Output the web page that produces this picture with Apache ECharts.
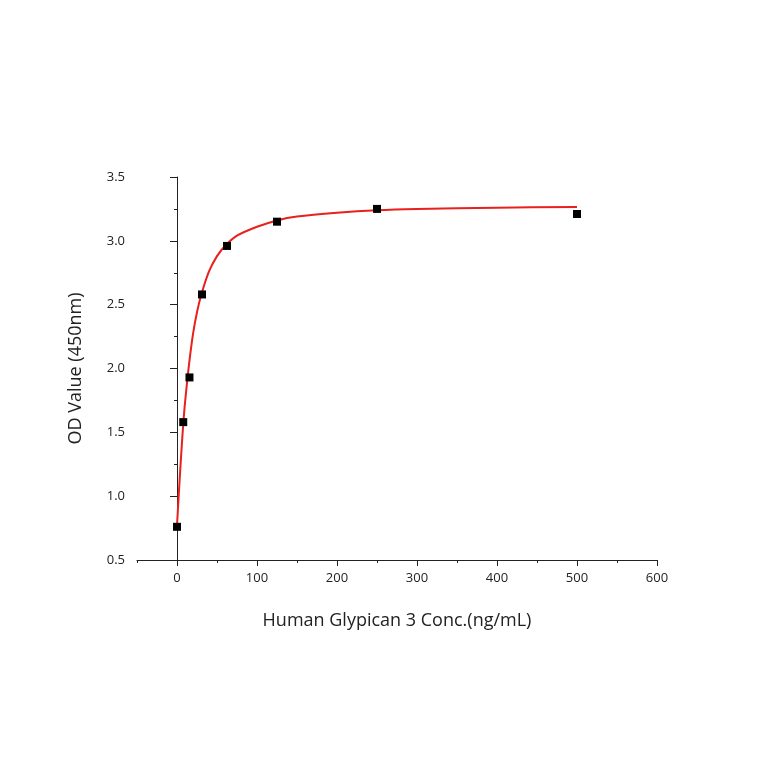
<!DOCTYPE html>
<html><head><meta charset="utf-8">
<script src="https://cdn.jsdelivr.net/npm/echarts@6/dist/echarts.min.js"></script>
<style>html,body{margin:0;padding:0;background:#fff}#c{width:764px;height:764px}</style>
</head><body><div id="c"></div>
<script>
const conc = [0, 7.8, 15.6, 31.25, 62.5, 125, 250, 500];
const od = [0.76, 1.58, 1.93, 2.58, 2.96, 3.15, 3.25, 3.21];
const fitX = [0, 2, 4, 6, 8, 10, 15, 20, 25, 30, 40, 50, 60, 75, 100, 125, 150, 200, 250, 300, 400, 500];
const fitY = [0.77, 0.99, 1.2, 1.4, 1.58, 1.73, 2.03, 2.27, 2.44, 2.57, 2.76, 2.88, 2.96, 3.04, 3.11, 3.16, 3.19, 3.22, 3.24, 3.25, 3.26, 3.265];
const xMajor = [0, 100, 200, 300, 400, 500, 600];
const xMinor = [-50, 50, 150, 250, 350, 450, 550];

const chart = echarts.init(document.getElementById('c'));
const font = 'Open Sans';
chart.setOption({
  animation: false,
  backgroundColor: '#fff',
  grid: {left: 137, right: 107, top: 177, bottom: 204, containLabel: false},
  xAxis: [{
    type: 'value', min: -50, max: 600,
    name: 'Human Glypican 3 Conc.(ng/mL)', nameLocation: 'middle', nameGap: 52,
    nameTextStyle: {fontFamily: font, fontSize: 18, color: '#222'},
    axisLine: {show: true, lineStyle: {color: '#222', width: 1}},
    axisTick: {show: true, customValues: xMajor, length: 6, lineStyle: {color: '#222'}},
    axisLabel: {customValues: xMajor, fontFamily: font, fontSize: 13, color: '#222', margin: 12},
    splitLine: {show: false}
  }, {
    type: 'value', min: -50, max: 600, gridIndex: 0, position: 'bottom',
    axisLine: {show: false},
    axisTick: {show: true, customValues: xMinor, length: 3, lineStyle: {color: '#222'}},
    axisLabel: {show: false},
    splitLine: {show: false}
  }],
  yAxis: {
    type: 'value', min: 0.5, max: 3.5, interval: 0.5,
    name: 'OD Value (450nm)', nameLocation: 'middle', nameGap: 52,
    nameTextStyle: {fontFamily: font, fontSize: 18, color: '#222'},
    axisLine: {show: true, lineStyle: {color: '#222', width: 1}},
    axisTick: {show: true, length: 7, lineStyle: {color: '#222'}},
    minorTick: {show: true, splitNumber: 2, length: 3, lineStyle: {color: '#222'}},
    axisLabel: {fontFamily: font, fontSize: 13, color: '#222', margin: 12, formatter: v => v.toFixed(1)},
    splitLine: {show: false}, minorSplitLine: {show: false}
  },
  series: [{
    type: 'line', data: fitX.map((x, i) => [x, fitY[i]]), smooth: 0.3, showSymbol: false,
    lineStyle: {color: '#e8201e', width: 2}, z: 2
  }, {
    type: 'scatter', data: conc.map((x, i) => [x, od[i]]), symbol: 'rect', symbolSize: 8,
    itemStyle: {color: '#000', opacity: 1}, z: 3
  }]
});
</script></body></html>
